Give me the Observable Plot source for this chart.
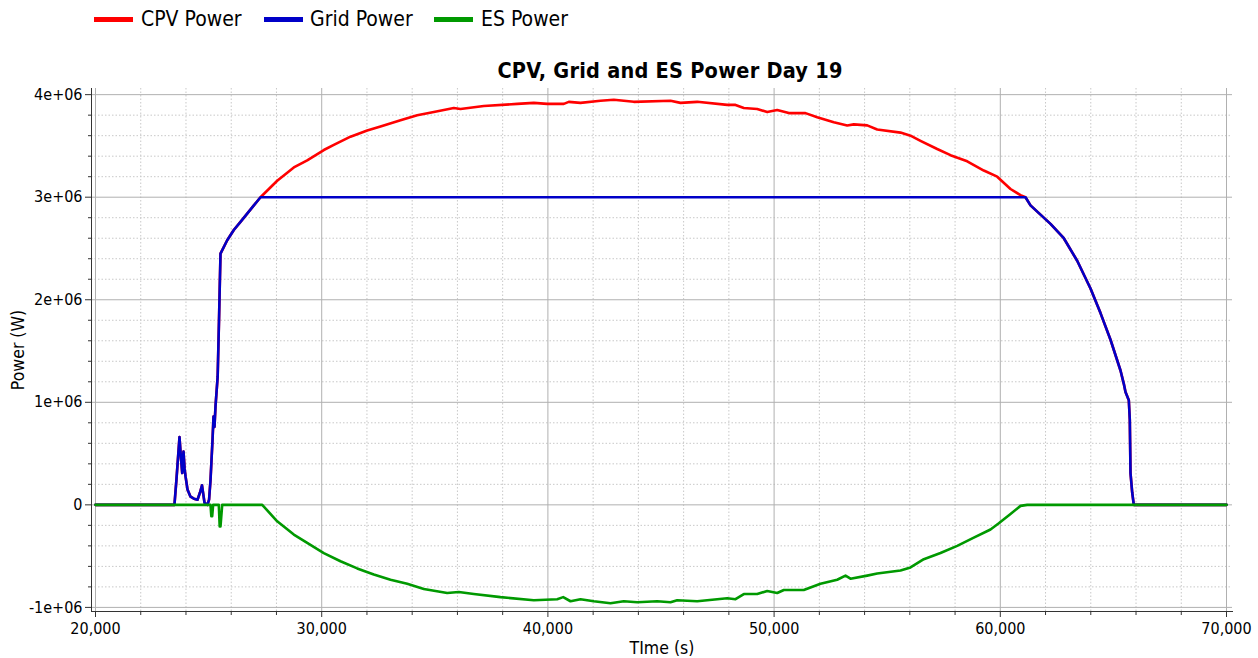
<!DOCTYPE html>
<html>
<head>
<meta charset="utf-8">
<script src="https://cdn.jsdelivr.net/npm/d3@7"></script>
<script src="https://cdn.jsdelivr.net/npm/@observablehq/plot@0.6"></script>
<style>
  html, body { margin: 0; padding: 0; background: #fff; }
  body { width: 1258px; height: 658px; overflow: hidden; font-family: "DejaVu Sans Condensed", "DejaVu Sans", sans-serif; }
  #head { position: relative; width: 1258px; height: 84px; }
  .sw { position: absolute; top: 17px; width: 39px; height: 5px; }
  .lt { position: absolute; top: 9px; font-size: 21px; line-height: 21px; color: #000; white-space: nowrap; }
  #title { position: absolute; top: 60px; left: 0; width: 1340px; text-align: center; font-size: 21.5px; line-height: 21px; font-weight: bold; color: #000; white-space: nowrap; letter-spacing: 0.25px; }
  svg { display: block; }
  g[aria-label="x-axis label"] text, g[aria-label="y-axis label"] text { font-size: 17.5px; }
</style>
</head>
<body>
<div id="head"></div>
<div id="chart"></div>
<script>
// ---- Data ----
const seriesNames = ["CPV Power", "Grid Power", "ES Power"];
const seriesColors = ["#ff0000", "#0000c8", "#009900"];
const titleText = "CPV, Grid and ES Power Day 19";
const xLabel = "TIme (s)";
const yLabel = "Power (W)";

const cpvTime = [20000,23490,23580,23713,23780,23833,23890,23940,23979,24067,24200,24350,24509,24620,24708,24780,24819,24951,25020,25084,25172,25217,25260,25305,25400,25460,25500,25526,25822,26114,26410,26706,27000,27294,28033,28767,29359,30093,30535,31273,32011,32599,33484,34222,34956,35840,36136,37166,38643,39377,39969,40703,40924,41441,42326,42913,43797,45420,45862,46600,47927,48294,48661,49253,49695,50137,50650,51388,51905,52639,53232,53523,54116,54558,55588,56030,56472,57210,57798,58537,59271,59863,60451,60893,61114,61335,62219,62807,63399,63988,64430,64872,65314,65460,65535,65681,65725,65756,65831,65902,70000];
const cpvPower = [0,0,250000,660000,450000,310000,520000,350000,280000,150000,80000,60000,50000,120000,190000,80000,20000,0,50000,240000,630000,860000,760000,960000,1250000,1800000,2200000,2450000,2580000,2680000,2760000,2840000,2920000,3000000,3160000,3290000,3360000,3460000,3510000,3590000,3650000,3690000,3750000,3800000,3830000,3870000,3860000,3890000,3910000,3920000,3910000,3910000,3930000,3920000,3940000,3950000,3930000,3940000,3920000,3930000,3900000,3900000,3870000,3860000,3830000,3850000,3820000,3820000,3780000,3730000,3700000,3710000,3700000,3660000,3630000,3600000,3550000,3470000,3410000,3350000,3260000,3200000,3080000,3020000,3000000,2920000,2740000,2600000,2380000,2110000,1870000,1610000,1310000,1180000,1100000,1020000,830000,310000,120000,0,0];

const gridTime = [20000,23490,23580,23713,23780,23833,23890,23940,23979,24067,24200,24350,24509,24620,24708,24780,24819,24951,25020,25084,25172,25217,25260,25305,25400,25460,25500,25526,25822,26114,26410,26706,27000,27294,61114,61335,62219,62807,63399,63988,64430,64872,65314,65460,65535,65681,65725,65756,65831,65902,70000];
const gridPower = [0,0,250000,660000,450000,310000,520000,350000,280000,150000,80000,60000,50000,120000,190000,80000,20000,0,50000,240000,630000,860000,760000,960000,1250000,1800000,2200000,2450000,2580000,2680000,2760000,2840000,2920000,3000000,3000000,2920000,2740000,2600000,2380000,2110000,1870000,1610000,1310000,1180000,1100000,1020000,830000,310000,120000,0,0];

const esTime = [20000,25084,25120,25159,25200,25451,25490,25526,25601,27370,28033,28767,29359,30093,30831,31569,32303,33042,33780,34514,35548,36061,36724,37905,39377,40411,40676,40999,41441,42029,42767,43355,43948,44832,45420,45716,46600,47927,48294,48661,49253,49695,50137,50429,51313,52051,52789,53156,53377,54116,54558,55588,56030,56618,57356,58095,58828,59567,59934,60451,60893,61189,70000];
const esPower = [0,0,-110000,-110000,0,0,-210000,-210000,0,0,-160000,-290000,-370000,-470000,-550000,-620000,-680000,-730000,-770000,-820000,-860000,-850000,-870000,-900000,-930000,-920000,-900000,-940000,-920000,-940000,-960000,-940000,-950000,-940000,-950000,-930000,-940000,-910000,-920000,-870000,-870000,-840000,-860000,-830000,-830000,-770000,-730000,-690000,-720000,-690000,-670000,-640000,-610000,-530000,-470000,-400000,-320000,-240000,-180000,-90000,-10000,0,0];

const xMajorTicks = [20000,30000,40000,50000,60000,70000];
const xMinorTicks = [22000,24000,26000,28000,32000,34000,36000,38000,42000,44000,46000,48000,52000,54000,56000,58000,62000,64000,66000,68000];
const yMajorTicks = [-1000000,0,1000000,2000000,3000000,4000000];
const yMinorTicks = [-800000,-600000,-400000,-200000,200000,400000,600000,800000,1200000,1400000,1600000,1800000,2200000,2400000,2600000,2800000,3200000,3400000,3600000,3800000];

// ---- Header: legend + title ----
const head = document.getElementById("head");
const legendSwatchX = [94, 264, 434];
const legendTextX = [141, 310, 481];
seriesNames.forEach((name, i) => {
  const sw = document.createElement("div");
  sw.className = "sw"; sw.style.left = legendSwatchX[i] + "px"; sw.style.background = seriesColors[i];
  head.appendChild(sw);
  const tx = document.createElement("div");
  tx.className = "lt"; tx.style.left = legendTextX[i] + "px"; tx.textContent = name;
  head.appendChild(tx);
});
const t = document.createElement("div");
t.id = "title"; t.textContent = titleText;
head.appendChild(t);

// ---- Chart ----
const rows = (ts, vs) => ts.map((x, i) => ({t: x, v: vs[i]}));
const yFmt = d => {
  if (d === 0) return "0";
  const e = Math.floor(Math.log10(Math.abs(d)));
  const m = Math.round(d / Math.pow(10, e));
  return m + "e+" + String(e).padStart(2, "0");
};

const chart = Plot.plot({
  width: 1258,
  height: 574,
  marginTop: 4,
  marginLeft: 91,
  marginRight: 26,
  marginBottom: 47,
  style: {fontFamily: "DejaVu Sans Condensed, DejaVu Sans, sans-serif", fontSize: "16px", color: "#000", background: "#fff"},
  x: {domain: [19823, 70265]},
  y: {domain: [-1040000, 4060000]},
  marks: [
    Plot.gridX(xMinorTicks, {stroke: "#c8c8c8", strokeOpacity: 1, strokeDasharray: "1.5,2"}),
    Plot.gridY(yMinorTicks, {stroke: "#c8c8c8", strokeOpacity: 1, strokeDasharray: "1.5,2"}),
    Plot.gridX(xMajorTicks, {stroke: "#b0b0b0", strokeOpacity: 1}),
    Plot.gridY(yMajorTicks, {stroke: "#b0b0b0", strokeOpacity: 1}),
    Plot.line(rows(cpvTime, cpvPower), {x: "t", y: "v", stroke: seriesColors[0], strokeWidth: 2.6}),
    Plot.line(rows(gridTime, gridPower), {x: "t", y: "v", stroke: seriesColors[1], strokeWidth: 2.6}),
    Plot.line(rows(esTime, esPower), {x: "t", y: "v", stroke: seriesColors[2], strokeWidth: 2.6}),
    Plot.frame({anchor: "left", stroke: "#333"}),
    Plot.frame({anchor: "bottom", stroke: "#333"}),
    Plot.axisX(xMinorTicks, {tickSize: 4, tickFormat: () => "", label: null, stroke: "#333"}),
    Plot.axisY(yMinorTicks, {tickSize: 3, tickFormat: () => "", label: null, stroke: "#333"}),
    Plot.axisX(xMajorTicks, {tickSize: 6, tickPadding: 5, tickFormat: d3.format(","), label: xLabel, labelAnchor: "center", labelArrow: "none", labelOffset: 42, stroke: "#333"}),
    Plot.axisY(yMajorTicks, {tickSize: 6, tickPadding: 3, tickFormat: yFmt, label: yLabel, labelAnchor: "center", labelArrow: "none", labelOffset: 80, stroke: "#333"})
  ]
});
document.getElementById("chart").appendChild(chart);
</script>
</body>
</html>
